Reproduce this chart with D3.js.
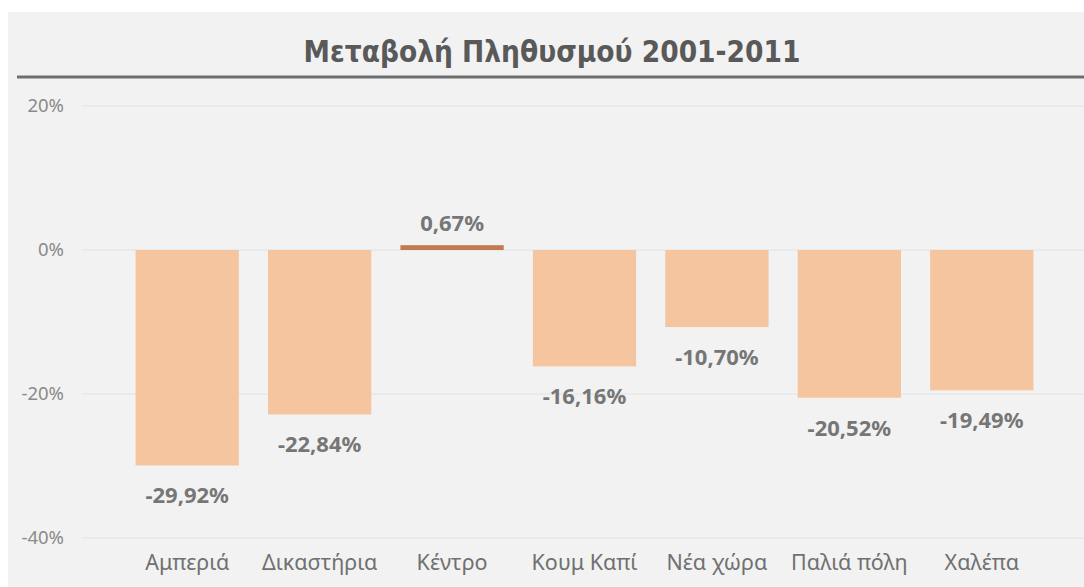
<!doctype html>
<html lang="el">
<head>
<meta charset="UTF-8">
<title>Μεταβολή Πληθυσμού</title>
<script src="https://d3js.org/d3.v7.min.js"></script>
<style>
    html, body { margin: 0; padding: 0; background: #fff; }
    svg { display: block; }
</style>
</head>
<body>
<div id="chart"></div>
<script>
    // data
    const areas = ['Αμπεριά', 'Δικαστήρια', 'Κέντρο', 'Κουμ Καπί', 'Νέα χώρα', 'Παλιά πόλη', 'Χαλέπα']
    const change = [-29.92, -22.84, 0.67, -16.16, -10.70, -20.52, -19.49]
    const yTicks = [-40, -20, 0, 20]
    const title = 'Μεταβολή Πληθυσμού 2001-2011'

    const W = 1084, H = 587

    const svg = d3.select('#chart').append('svg')
        .attr('width', W)
        .attr('height', H)

    // panel background
    svg.append('rect')
        .attr('x', 8).attr('y', 12)
        .attr('width', W - 8).attr('height', H - 12)
        .attr('fill', '#f2f2f2')

    // title + rule under it
    svg.append('text')
        .attr('x', 552).attr('y', 62)
        .attr('text-anchor', 'middle')
        .style('font-family', '"DejaVu Sans Condensed", "DejaVu Sans", sans-serif')
        .style('font-weight', 'bold')
        .style('font-size', '29.5px')
        .attr('fill', '#595959')
        .text(title)

    svg.append('line')
        .attr('x1', 17).attr('x2', W)
        .attr('y1', 77).attr('y2', 77)
        .attr('stroke', '#6e6e6e')
        .attr('stroke-width', 3)

    const data = areas.map((a, i) => ({ area: a, value: change[i] }))

    const x = d3.scaleBand()
        .domain(areas)
        .range([121, 1048])
        .paddingInner(0.22)
        .paddingOuter(0.11)

    const y = d3.scaleLinear()
        .domain([-40, 20])
        .range([538, 106])

    // gridlines
    svg.append('g')
        .selectAll('line')
        .data(yTicks)
        .join('line')
        .attr('x1', 82).attr('x2', W)
        .attr('y1', d => y(d)).attr('y2', d => y(d))
        .attr('stroke', '#e2e2e2')
        .attr('stroke-width', 1)

    // y axis labels
    const yAxis = d3.axisLeft(y)
        .tickValues(yTicks)
        .tickSize(0)
        .tickPadding(0)
        .tickFormat(d => d + '%')
    svg.append('g')
        .attr('transform', 'translate(64,0)')
        .call(yAxis)
        .call(g => g.select('.domain').remove())
        .selectAll('text')
        .style('font-family', '"Noto Sans", "Open Sans", sans-serif')
        .style('font-size', '18.5px')
        .attr('fill', '#8a8a8a')

    // bars
    svg.append('g')
        .selectAll('rect')
        .data(data)
        .join('rect')
        .attr('x', d => x(d.area))
        .attr('width', x.bandwidth())
        .attr('y', d => y(Math.max(0, d.value)))
        .attr('height', d => Math.abs(y(d.value) - y(0)))
        .attr('fill', d => d.value >= 0 ? '#c27b4f' : '#f5c5a0')

    // value labels
    svg.append('g')
        .selectAll('text')
        .data(data)
        .join('text')
        .attr('x', d => x(d.area) + x.bandwidth() / 2)
        .attr('y', d => d.value >= 0 ? y(d.value) - 14 : y(d.value) + 38)
        .attr('text-anchor', 'middle')
        .style('font-family', '"Noto Sans", "Open Sans", sans-serif')
        .style('font-weight', 'bold')
        .style('font-size', '22px')
        .attr('fill', '#767676')
        .text(d => d.value.toFixed(2).replace('.', ',') + '%')

    // category labels
    const xAxis = d3.axisBottom(x).tickSize(0).tickPadding(0)
    svg.append('g')
        .attr('transform', 'translate(0,555)')
        .call(xAxis)
        .call(g => g.select('.domain').remove())
        .selectAll('text')
        .attr('dy', '0.71em')
        .style('font-family', '"Noto Sans", "Open Sans", sans-serif')
        .style('font-size', '21.5px')
        .attr('fill', '#707070')
</script>
</body>
</html>
